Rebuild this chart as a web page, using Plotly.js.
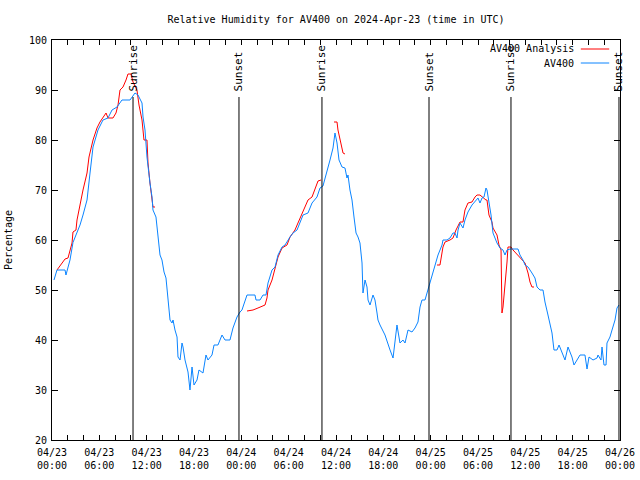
<!DOCTYPE html>
<html>
<head>
<meta charset="utf-8">
<script src="https://cdn.plot.ly/plotly-3.0.1.min.js"></script>
<style>html,body{margin:0;padding:0;background:#fff;}#chart{width:640px;height:480px;}</style>
</head>
<body>
<div id="chart"></div>
<script>
// Start of the time axis (UTC)
const startTime = "2024-04-23T00:00:00Z";

// AV400 observations: hours after start, relative humidity (%)
const obsHours = [0.25,0.63,1.65,1.77,2.28,2.66,3.04,3.55,3.93,4.44,4.82,5.20,5.83,6.46,7.10,7.61,8.24,8.87,9.89,10.14,10.52,10.90,11.41,11.54,11.79,12.04,12.17,12.42,12.68,12.80,13.18,13.44,13.69,13.94,14.20,14.45,14.70,14.96,15.21,15.34,15.59,15.85,15.97,16.23,16.48,16.61,16.86,17.11,17.24,17.49,17.75,18.00,18.38,18.63,19.01,19.14,19.52,19.77,20.28,20.54,21.04,21.55,21.93,22.56,22.94,23.45,23.83,24.08,24.72,25.73,25.86,26.37,26.75,27.13,27.38,27.89,28.27,28.65,29.16,29.54,30.17,30.55,31.06,31.44,31.82,32.45,32.96,33.59,33.97,34.35,34.86,35.24,35.62,35.87,36.13,36.38,36.76,37.14,37.39,37.52,37.77,38.03,38.28,38.54,38.79,39.04,39.30,39.42,39.68,39.93,40.06,40.31,40.69,40.94,41.20,41.32,41.58,42.21,42.85,43.23,43.73,44.11,44.49,44.75,45.13,45.63,46.01,46.39,46.65,46.90,47.28,47.54,47.92,48.30,48.68,48.93,49.44,49.56,50.07,50.45,50.83,51.08,51.34,51.47,51.72,52.10,52.35,52.73,53.24,53.62,54.00,54.25,54.51,54.76,55.01,55.14,55.39,55.65,55.90,56.15,56.41,56.79,57.17,57.42,57.68,58.06,59.07,59.32,59.70,59.96,60.34,60.84,61.22,61.48,61.86,62.24,62.49,62.87,63.38,63.63,64.01,64.27,64.65,65.03,65.41,65.91,66.17,66.55,66.93,67.56,67.82,68.07,68.58,69.09,69.21,69.59,69.72,69.97,70.23,70.35,70.73,70.99,71.37,71.62,71.87];
const obsRH = [52,54,54,53,56,59.5,61,63,65,68,73.4,78.6,82,84,84.4,86,86.6,88,88,88.6,89.4,89,87.4,84.6,82,76.6,74.6,71.4,68.6,66,64.6,60,57,56,53.6,52.4,47.4,44,43.4,44,42,40.6,36.6,36,39.4,38.6,36,34,33.6,30,34.6,31,32,34,33.6,33.4,37,36,37,39,39,41,40,40,42.4,44.6,45.6,46,49,49,48,48,49,49,51.4,54,54.6,57,58.6,59,60.6,61.4,62,63.4,65,65.4,67.4,68.6,70.4,70.8,73.6,76,78.4,81.4,79.4,76,74.6,74.4,72.4,73,70,68,64.6,61.4,60.6,59.4,55.4,49.4,52,50.6,48,47,49,48,45.4,44,43,41,38,36.4,43,39.4,40,39.4,42,41.6,42.4,43.6,46.6,48,48,49.4,51.4,53.4,55.4,57,59,60,60,60.4,61.4,61.4,60.4,62,63.4,62.4,64,65.6,67,67.6,68.4,67.4,68.4,68.6,70.4,70,67.4,65,61.4,60.4,59.4,58.4,58,57,58,58.2,58.2,57,56,55,54.6,53.4,52.4,50.6,50,50,47.6,45,41.4,38,38,39,37.4,36,38.6,36.6,35,36,37,37,34.2,36.6,36,36.4,37,36,38.6,35,35,39.4,40.6,42,44,46.4,47];

// AV400 analysis: hours after start, relative humidity (%); null = gap
const anaHours = [0.63,1.14,1.65,2.03,2.54,2.66,3.04,3.17,3.55,3.93,4.44,4.69,5.20,5.70,6.08,6.46,6.85,7.10,7.73,8.11,8.37,8.62,9.00,9.38,9.63,10.01,10.27,10.77,11.03,11.41,11.66,12.04,12.17,12.42,12.68,12.80,13.06,13.10,
  24.72,25.48,26.11,26.62,27.00,27.25,27.38,27.89,28.27,28.65,29.16,29.79,30.17,30.80,31.18,31.69,32.07,32.45,32.96,33.34,33.72,34.10,34.15,
  35.75,36.13,36.25,36.51,36.89,37.14,37.20,
  48.80,49.18,49.56,49.82,50.45,50.83,51.21,51.72,52.10,52.35,52.73,53.24,53.62,53.87,54.25,54.51,55.01,55.14,55.39,55.77,55.90,56.41,56.66,56.92,57.04,57.17,57.30,57.42,57.55,57.68,57.80,58.18,58.44,59.07,59.70,59.96,60.34,60.59,60.84,61.10];
const anaRH = [54,55,56.2,56.4,59.4,61.6,62,64,67.4,70,73.4,76.6,80,82.4,83.6,84.6,85.4,84.4,84.4,85.4,87,90,90.6,92,93.2,93.2,91.6,90,87,84,80,80,75.4,71.4,68.6,66.6,66.6,null,
  45.8,46,46.4,46.8,47,48.4,50,52,54.4,56.6,58.4,59,60.6,62,63.4,65.4,66.6,68,68.6,70.4,71.8,72,null,
  83.6,83.6,82,80,77.4,77.2,null,
  55,55,58.6,59.6,60,60.4,62,63.6,63.6,66,67.4,67.6,68.6,69,69,68.6,68,68,65,63.6,62.4,61,59,58,45.4,46.6,48.6,50.6,53.4,55.6,58.6,58.6,58,57,56,55.4,53.4,51.6,50.6,50.6];

// Sun events: hours after start
const sunEventHours = [10.27, 23.70, 34.22, 47.79, 58.18, 71.87];
const sunEventLabels = ["Sunrise", "Sunset", "Sunrise", "Sunset", "Sunrise", "Sunset"];

const seriesNames = ["AV400 Analysis", "AV400"];
const seriesColors = ["#ff0000", "#0a84ff"];

const t0 = Date.parse(startTime);
function toTime(h) {
  const d = new Date(t0 + h * 3600000);
  return d.toISOString().replace("T", " ").replace("Z", "").slice(0, 19);
}

const FONT = "DejaVu Sans Mono, monospace";
const FS = 10;

const traces = [
  { x: anaHours.map(toTime), y: anaRH, mode: "lines", name: seriesNames[0],
    line: { color: seriesColors[0], width: 1 }, connectgaps: false, hoverinfo: "skip" },
  { x: obsHours.map(toTime), y: obsRH, mode: "lines", name: seriesNames[1],
    line: { color: seriesColors[1], width: 1 }, hoverinfo: "skip" }
];

const shapes = [];
const annotations = [];
sunEventHours.forEach((h, i) => {
  shapes.push({ type: "line", xref: "x", yref: "y", x0: toTime(h), x1: toTime(h), y0: 20, y1: 88.6,
    line: { color: "#000", width: 1 } });
  annotations.push({ xref: "x", yref: "y", x: toTime(h), y: 89.3, text: sunEventLabels[i],
    textangle: -90, showarrow: false, xanchor: "center", yanchor: "bottom",
    font: { family: FONT, size: 11, color: "#000" } });
});

// Manual legend (gnuplot style: text right, sample line after)
const legY = [0.9775, 0.9425];
seriesNames.forEach((n, i) => {
  annotations.push({ xref: "paper", yref: "paper", x: 0.923, y: legY[i], text: n, showarrow: false,
    xanchor: "right", yanchor: "middle", font: { family: FONT, size: FS, color: "#000" } });
  shapes.push({ type: "line", xref: "paper", yref: "paper", x0: 0.931, x1: 0.981, y0: legY[i], y1: legY[i],
    line: { color: seriesColors[i], width: 1 } });
});

const layout = {
  width: 640, height: 480,
  margin: { l: 52, r: 20, t: 40, b: 40 },
  paper_bgcolor: "#fff", plot_bgcolor: "#fff",
  showlegend: false,
  font: { family: FONT, size: FS, color: "#000" },
  title: { text: "Relative Humidity for AV400 on 2024-Apr-23 (time in UTC)",
    x: 0.525, xanchor: "center", y: 0.96, yanchor: "middle",
    font: { family: FONT, size: FS, color: "#000" } },
  xaxis: {
    type: "date",
    range: [toTime(0), toTime(72)],
    tick0: toTime(0), dtick: 6 * 3600000,
    tickformat: "%m/%d<br>%H:%M",
    ticks: "inside", ticklen: 5, tickcolor: "#000", tickwidth: 1,
    ticklabelstandoff: 3,
    minor: { dtick: 2 * 3600000, ticks: "inside", ticklen: 5, tickcolor: "#000", tickwidth: 1, showgrid: false },
    showline: true, linecolor: "#000", linewidth: 1, mirror: "ticks",
    showgrid: false, zeroline: false,
    tickfont: { family: FONT, size: FS, color: "#000" }
  },
  yaxis: {
    range: [20, 100], dtick: 10, tick0: 20,
    ticks: "inside", ticklen: 6, tickcolor: "#000", tickwidth: 1,
    ticklabelstandoff: 2,
    showline: true, linecolor: "#000", linewidth: 1, mirror: "ticks",
    showgrid: false, zeroline: false,
    tickfont: { family: FONT, size: FS, color: "#000" },
    title: { text: "Percentage", standoff: 14, font: { family: FONT, size: FS, color: "#000" } }
  },
  shapes: shapes,
  annotations: annotations
};

Plotly.newPlot("chart", traces, layout, { staticPlot: true, displayModeBar: false });
</script>
</body>
</html>
